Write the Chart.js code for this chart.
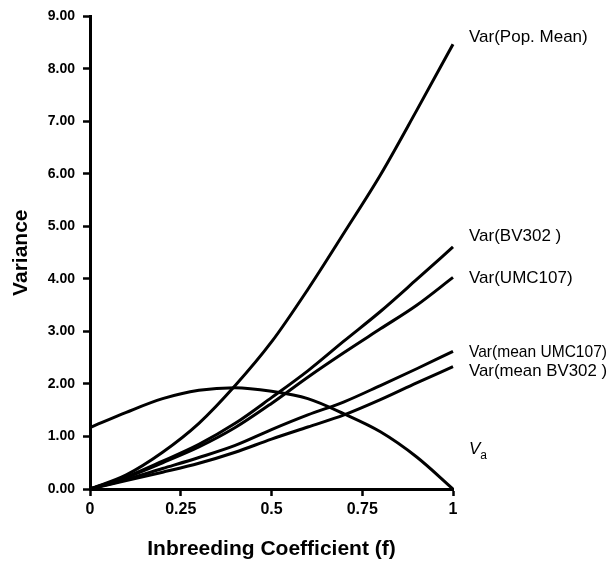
<!DOCTYPE html>
<html>
<head>
<meta charset="utf-8">
<script src="https://cdn.jsdelivr.net/npm/chart.js@4/dist/chart.umd.min.js"></script>
<style>
  html, body { margin: 0; padding: 0; background: #fff; }
  #wrap { width: 609px; height: 563px; }
</style>
</head>
<body>
<div id="wrap"><canvas id="chart"></canvas></div>
<script>
// inbreeding coefficient f, sampled every 0.1
const inbreeding = [0, 0.1, 0.2, 0.3, 0.4, 0.5, 0.6, 0.7, 0.8, 0.9, 1];

// variance components
const varPopMean  = [0, 0.27, 0.70, 1.25, 1.97, 2.80, 3.80, 4.88, 5.98, 7.21, 8.47];
const varBV302    = [0, 0.23, 0.53, 0.85, 1.25, 1.74, 2.25, 2.82, 3.38, 3.99, 4.61];
const varUMC107   = [0, 0.22, 0.50, 0.80, 1.17, 1.63, 2.13, 2.60, 3.05, 3.50, 4.03];
const varMeanUMC  = [0, 0.18, 0.39, 0.60, 0.83, 1.13, 1.41, 1.66, 1.97, 2.29, 2.62];
const varMeanBV   = [0, 0.16, 0.32, 0.49, 0.70, 0.95, 1.18, 1.41, 1.70, 2.02, 2.33];
const va          = [1.17, 1.46, 1.72, 1.88, 1.93, 1.86, 1.72, 1.43, 1.09, 0.61, 0];

const xTicks = [0, 0.25, 0.5, 0.75, 1];
const xTickLabels = ['0', '0.25', '0.5', '0.75', '1'];
const yTicks = [0, 1, 2, 3, 4, 5, 6, 7, 8, 9];
const yTickLabels = ['0.00', '1.00', '2.00', '3.00', '4.00', '5.00', '6.00', '7.00', '8.00', '9.00'];

const seriesNames = ['Var(Pop. Mean)', 'Var(BV302 )', 'Var(UMC107)', 'Var(mean UMC107)', 'Var(mean BV302 )', 'Va'];
const seriesValues = [varPopMean, varBV302, varUMC107, varMeanUMC, varMeanBV, va];
// where each right-hand label sits, in variance units
const labelAt = [8.60, 4.81, 4.02, 2.61, 2.24, 0.76];

const FONT = '"Liberation Sans", Arial, Helvetica, sans-serif';

const endLabels = {
  id: 'endLabels',
  afterDatasetsDraw(chart) {
    const { ctx, chartArea, scales } = chart;
    const x = chartArea.right + 16;
    const room = chart.width - x - 2;
    ctx.save();
    ctx.fillStyle = '#000';
    ctx.textBaseline = 'middle';
    ctx.textAlign = 'left';
    seriesNames.forEach((name, i) => {
      const y = scales.y.getPixelForValue(labelAt[i]);
      if (name === 'Va') {
        ctx.font = 'italic 17px ' + FONT;
        ctx.fillText('V', x, y);
        const w = ctx.measureText('V').width;
        ctx.font = '12px ' + FONT;
        ctx.fillText('a', x + w, y + 7);
      } else {
        ctx.font = '17px ' + FONT;
        ctx.fillText(name, x, y, room);
      }
    });
    ctx.restore();
  }
};

const axisStyle = {
  border: { display: true, color: '#000', width: 3 },
  grid: { display: true, drawOnChartArea: false, drawTicks: true, tickLength: 7, tickWidth: 2.5, tickColor: '#000' }
};

new Chart(document.getElementById('chart').getContext('2d'), {
  type: 'line',
  data: {
    datasets: seriesValues.map((vals, i) => ({
      label: seriesNames[i],
      data: vals.map((v, j) => ({ x: inbreeding[j], y: v })),
      borderColor: '#000',
      borderWidth: 3,
      pointRadius: 0,
      cubicInterpolationMode: 'monotone',
      fill: false,
      clip: false
    }))
  },
  options: {
    responsive: true,
    maintainAspectRatio: false,
    animation: false,
    layout: { padding: { top: 14, right: 156, bottom: 0, left: 0 } },
    plugins: { legend: { display: false }, tooltip: { enabled: false } },
    scales: {
      x: {
        type: 'linear',
        min: 0,
        max: 1,
        ...axisStyle,
        afterFit: (s) => { s.height = 74; },
        afterBuildTicks: (s) => { s.ticks = xTicks.map(v => ({ value: v })); },
        ticks: {
          color: '#000',
          padding: 4,
          maxRotation: 0,
          font: { family: FONT, size: 16, weight: 'bold' },
          callback: (v) => xTickLabels[xTicks.indexOf(v)]
        },
        title: {
          display: true,
          text: 'Inbreeding Coefficient (f)',
          color: '#000',
          padding: { top: 0, bottom: 1 },
          font: { family: FONT, size: 21, weight: 'bold' }
        }
      },
      y: {
        min: 0,
        max: 9,
        ...axisStyle,
        afterFit: (s) => { s.width = 90; },
        afterBuildTicks: (s) => { s.ticks = yTicks.map(v => ({ value: v })); },
        ticks: {
          color: '#000',
          padding: 8,
          font: { family: FONT, size: 14, weight: 'bold' },
          callback: (v) => yTickLabels[yTicks.indexOf(v)]
        },
        title: {
          display: true,
          text: 'Variance',
          color: '#000',
          padding: { top: 9, bottom: 0 },
          font: { family: FONT, size: 21, weight: 'bold' }
        }
      }
    }
  },
  plugins: [endLabels]
});
</script>
</body>
</html>
